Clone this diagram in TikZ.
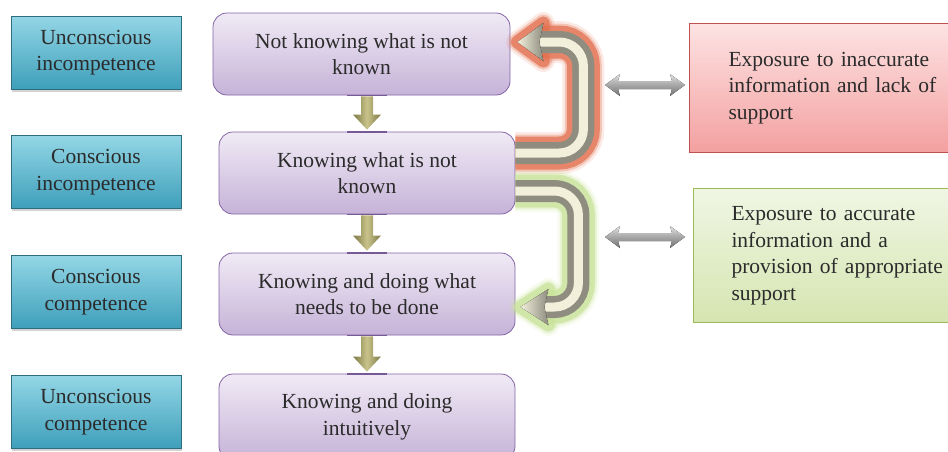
\documentclass[tikz,border=0pt]{standalone}
\usepackage{fontspec}
\setmainfont{Liberation Serif}
\usetikzlibrary{shadows,calc}
\definecolor{txt}{HTML}{2B2B2B}
\definecolor{tealtop}{HTML}{93D6E6}
\definecolor{tealbot}{HTML}{3E9FBA}
\definecolor{tealedge}{HTML}{2C6E80}
\definecolor{purtop}{HTML}{F0EAF5}
\definecolor{purbot}{HTML}{C6B3D8}
\definecolor{puredge}{HTML}{8464A6}
\definecolor{redtop}{HTML}{FDE3E3}
\definecolor{redbot}{HTML}{F3A0A0}
\definecolor{rededge}{HTML}{C0504D}
\definecolor{grntop}{HTML}{F0F6E4}
\definecolor{grnbot}{HTML}{D5E5B0}
\definecolor{grnedge}{HTML}{9BBB59}
\definecolor{redglow}{HTML}{E2704F}
\definecolor{grnglow}{HTML}{C9E39A}
\definecolor{shaftgray}{HTML}{8E8D80}
\definecolor{shaftcream}{HTML}{F2EFDB}
\definecolor{olivedark}{HTML}{7D7845}
\definecolor{olivelight}{HTML}{C9C38B}
\newcommand\mainfs{\fontsize{21.5}{26.5}\selectfont}
\begin{document}
\begin{tikzpicture}[x=1pt,y=-1pt,
  tealbox/.style={rectangle, draw=tealedge, line width=0.8pt, top color=tealtop, bottom color=tealbot,
    minimum width=170pt, minimum height=73pt, align=center, font=\mainfs, text=txt,
    drop shadow={shadow xshift=1pt, shadow yshift=-2.5pt, opacity=0.35}},
  purbox/.style={rectangle, rounded corners=14pt, draw=puredge, line width=0.8pt, top color=purtop, bottom color=purbot,
    minimum width=296pt, minimum height=82pt, align=center, font=\mainfs, text=txt},
  sidebox/.style={rectangle, anchor=north west, line width=1pt, align=left, font=\mainfs, text=txt,
    minimum width=300pt, text width=224pt},
  dbl/.pic={\fill[top color=black!12, bottom color=black!55, middle color=black!35]
    (-40,0) -- (-25,-11) -- (-27,-4) -- (27,-4) -- (25,-11) -- (40,0) -- (25,11) -- (27,4) -- (-27,4) -- (-25,11) -- cycle;},
  downarr/.style={left color=olivedark, right color=olivedark, middle color=olivelight}
]
\useasboundingbox (0,0) rectangle (948,451);
\clip (0,0) rectangle (948,451);

% left labels
\node[tealbox] (u1) at (96,52.5) {Unconscious\\incompetence};
\node[tealbox] (u2) at (96,172) {Conscious\\incompetence};
\node[tealbox] (u3) at (96,292) {Conscious\\competence};
\node[tealbox] (u4) at (96,412) {Unconscious\\competence};

% stage boxes
\node[purbox, minimum width=297pt] (k1) at (361.5,54) {Not knowing what is not\\known};
\node[purbox] (k2) at (367,173) {Knowing what is not\\known};
\node[purbox] (k3) at (367,294) {Knowing and doing what\\needs to be done};
\node[purbox, minimum height=86pt] (k4) at (367,417) {Knowing and doing\\intuitively};

% side boxes
\node[sidebox, draw=rededge, top color=redtop, bottom color=redbot, minimum height=129pt, inner xsep=39pt] (r) at (689,23)
  {Exposure to inaccurate\\information and lack of\\support};
\node[sidebox, draw=grnedge, top color=grntop, bottom color=grnbot, minimum height=134pt, inner xsep=38pt] (g) at (693,188)
  {Exposure to accurate\\information and a\\provision of appropriate\\support};

% down arrows
\foreach \a/\b in {k1/k2, k2/k3, k3/k4}{
  \draw[puredge!90!black, line width=1.8pt] ($(\a.south -| k2.north)+(-20,0)$) -- ++(40,0);
  \draw[puredge!90!black, line width=1.8pt] ($(\b.north)+(-20,0)$) -- ++(40,0);
  \path[downarr] let \p1=(\a.south -| k2.north), \p2=(\b.north) in
    ({\x1-6pt},{\y1-1pt}) -- ({\x1-6pt},{\y2+17pt}) -- ({\x1-14pt},{\y2+17pt}) -- (\x1,{\y2+2pt})
    -- ({\x1+14pt},{\y2+17pt}) -- ({\x1+6pt},{\y2+17pt}) -- ({\x1+6pt},{\y1-1pt}) -- cycle;
}

% double arrows
\pic at (645,85) {dbl};
\pic at (645,237) {dbl};

% curved feedback arrows
\coordinate (rs) at ($(k2.east)+(0,-20)$);
\coordinate (rt) at ($(k1.east)+(7,-12)$);
\coordinate (gs) at ($(k2.east)+(0,18)$);
\coordinate (gt) at ($(k3.east)+(5,13)$);

% glows
\foreach \w/\o/\h in {42/0.15/22, 37/0.3/17, 33/0.75/13}{
  \draw[redglow, opacity=\o, line width=\w pt, rounded corners=24pt] (rs) -| ($(rt)+(66,0)$) -- ($(rt)+(22,0)$);
  \draw[redglow, opacity=\o, line width=\h pt, line join=round, fill=redglow]
    (rt) -- ++(26,-19) -- ++(-4,19) -- ++(4,19) -- cycle;
  \draw[grnglow, opacity=\o, line width=\w pt, rounded corners=24pt] (gs) -| ($(gt)+(58,0)$) -- ($(gt)+(24,0)$);
  \draw[grnglow, opacity=\o, line width=\h pt, line join=round, fill=grnglow]
    (gt) -- ++(28,-18) -- ++(-4,18) -- ++(4,18) -- cycle;
}
% shafts
\draw[shaftgray, line width=22pt, rounded corners=24pt] (rs) -| ($(rt)+(66,0)$) -- ($(rt)+(22,0)$);
\draw[shaftcream, line width=9pt, rounded corners=24pt] (rs) -| ($(rt)+(66,0)$) -- ($(rt)+(22,0)$);
\draw[shaftgray, line width=22pt, rounded corners=24pt] (gs) -| ($(gt)+(58,0)$) -- ($(gt)+(24,0)$);
\draw[shaftcream, line width=9pt, rounded corners=24pt] (gs) -| ($(gt)+(58,0)$) -- ($(gt)+(24,0)$);
% heads
\fill[left color=shaftcream, right color=shaftgray] (rt) -- ++(26,-19) -- ++(-4,19) -- ++(4,19) -- cycle;
\fill[left color=shaftcream, right color=shaftgray] (gt) -- ++(28,-18) -- ++(-4,18) -- ++(4,18) -- cycle;
\end{tikzpicture}
\end{document}
